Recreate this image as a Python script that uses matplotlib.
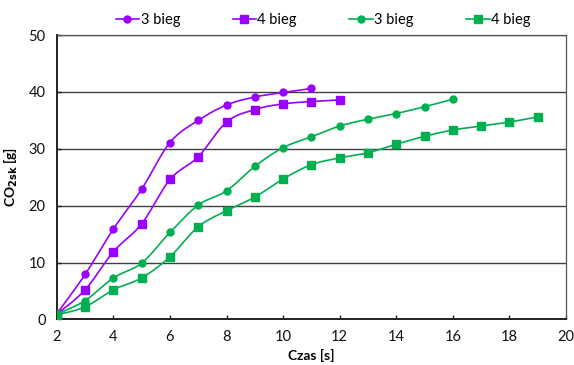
import numpy as np
import matplotlib
matplotlib.use("Agg")
import matplotlib.pyplot as plt
from matplotlib.lines import Line2D

plt.rcParams['font.family'] = ['Lato', 'DejaVu Sans']

# Cumulative CO2 emission vs. time for two gears in two test series
t_p3 = [2, 3, 4, 5, 6, 7, 8, 9, 10, 11]
co2_p3 = [1.0, 7.9, 15.9, 22.9, 31.1, 35.0, 37.7, 39.1, 39.9, 40.6]

t_p4 = [2, 3, 4, 5, 6, 7, 8, 9, 10, 11, 12]
co2_p4 = [0.9, 5.2, 11.9, 16.8, 24.6, 28.6, 34.7, 36.9, 37.9, 38.3, 38.6]

t_g3 = [2, 3, 4, 5, 6, 7, 8, 9, 10, 11, 12, 13, 14, 15, 16]
co2_g3 = [0.9, 3.3, 7.3, 9.9, 15.3, 20.1, 22.6, 26.9, 30.2, 32.1, 34.0, 35.2, 36.2, 37.4, 38.7]

t_g4 = [2, 3, 4, 5, 6, 7, 8, 9, 10, 11, 12, 13, 14, 15, 16, 17, 18, 19]
co2_g4 = [0.8, 2.2, 5.2, 7.3, 11.0, 16.3, 19.1, 21.5, 24.7, 27.2, 28.4, 29.3, 30.8, 32.2, 33.3, 34.0, 34.7, 35.6]

series_labels = ["3 bieg", "4 bieg", "3 bieg", "4 bieg"]
purple = "#9900FF"
green = "#00B050"


def smooth(x, y, n=20, tension=0.5):
    """Cardinal spline through the points (like a spreadsheet smoothed line)."""
    x = np.asarray(x, float)
    y = np.asarray(y, float)
    px = np.concatenate([[x[0]], x, [x[-1]]])
    py = np.concatenate([[y[0]], y, [y[-1]]])
    xs, ys = [], []
    s = np.linspace(0, 1, n, endpoint=False)
    for i in range(1, len(px) - 2):
        p0x, p1x, p2x, p3x = px[i - 1], px[i], px[i + 1], px[i + 2]
        p0y, p1y, p2y, p3y = py[i - 1], py[i], py[i + 1], py[i + 2]
        m1x, m1y = tension * (p2x - p0x), tension * (p2y - p0y)
        m2x, m2y = tension * (p3x - p1x), tension * (p3y - p1y)
        h00 = 2 * s**3 - 3 * s**2 + 1
        h10 = s**3 - 2 * s**2 + s
        h01 = -2 * s**3 + 3 * s**2
        h11 = s**3 - s**2
        xs.append(h00 * p1x + h10 * m1x + h01 * p2x + h11 * m2x)
        ys.append(h00 * p1y + h10 * m1y + h01 * p2y + h11 * m2y)
    xs.append([x[-1]])
    ys.append([y[-1]])
    return np.concatenate(xs), np.concatenate(ys)


fig = plt.figure(figsize=(5.74, 3.65), dpi=100)
ax = fig.add_axes([0.099, 0.125, 0.887, 0.779])

series = [
    (t_p3, co2_p3, purple, "o", 5.0),
    (t_p4, co2_p4, purple, "s", 5.2),
    (t_g3, co2_g3, green, "o", 5.0),
    (t_g4, co2_g4, green, "s", 5.2),
]

handles = []
for (x, y, c, m, ms), lab in zip(series, series_labels):
    sx, sy = smooth(x, y)
    ax.plot(sx, sy, color=c, lw=1.2, zorder=3)
    ax.plot(x, y, ls="none", marker=m, ms=ms, color=c, zorder=4)
    handles.append(Line2D([], [], color=c, lw=1.2, marker=m, ms=ms, label=lab))

ax.set_xlim(2, 20)
ax.set_ylim(0, 50)
ax.set_xticks(np.arange(2, 21, 2))
ax.set_yticks(np.arange(0, 51, 10))
ax.yaxis.grid(True, color="#404040", lw=1.0)
ax.set_axisbelow(True)

for side in ("top", "right"):
    ax.spines[side].set_color("#555555")
    ax.spines[side].set_linewidth(0.9)
for side in ("left", "bottom"):
    ax.spines[side].set_color("#222222")
    ax.spines[side].set_linewidth(1.4)

ax.tick_params(direction="in", length=3, width=1, colors="#222222",
               labelsize=10.5, labelcolor="#111111", pad=8)

ax.set_xlabel("Czas [s]", fontsize=10, fontweight="bold", labelpad=3)
ax.set_ylabel("CO$_\\mathbf{2sk}$ [g]", fontsize=10, fontweight="bold", labelpad=6)

fig.legend(handles=handles, loc="center", bbox_to_anchor=(0.563, 0.946), ncol=4,
           frameon=False, fontsize=10.5, columnspacing=3.6, handlelength=1.6,
           handletextpad=0.1)

fig.savefig("out.png", dpi=100)
